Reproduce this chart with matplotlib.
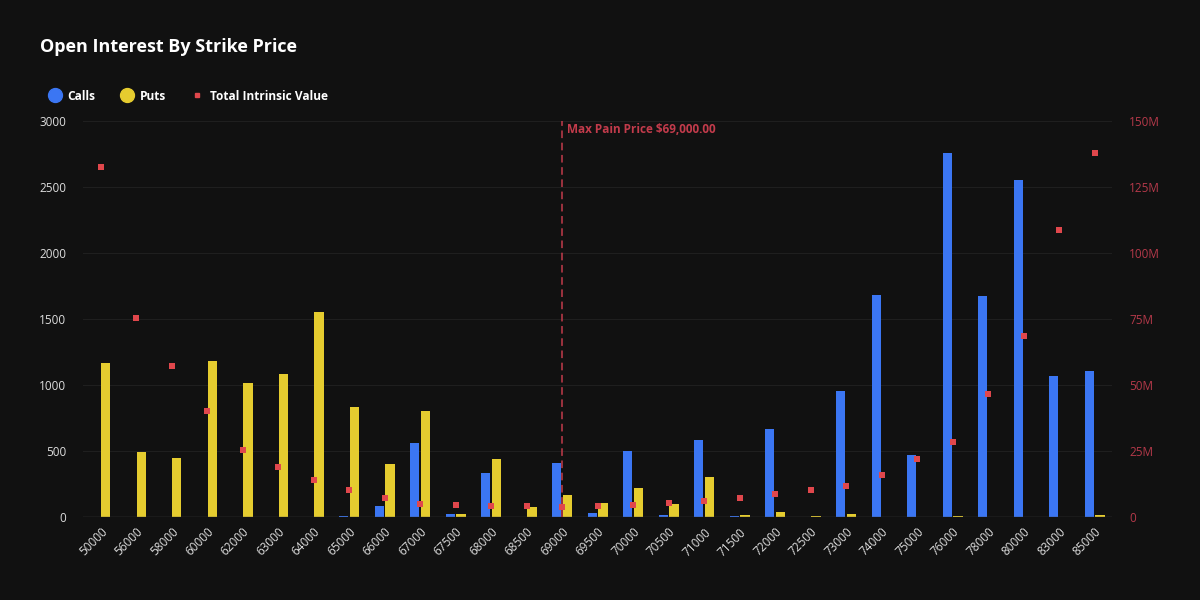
import matplotlib.pyplot as plt
import numpy as np
from matplotlib.lines import Line2D
from matplotlib.ticker import FuncFormatter

plt.rcParams['font.family'] = ['Open Sans', 'Noto Sans', 'DejaVu Sans']

strikes = ['50000', '56000', '58000', '60000', '62000', '63000', '64000', '65000',
           '66000', '67000', '67500', '68000', '68500', '69000', '69500', '70000',
           '70500', '71000', '71500', '72000', '72500', '73000', '74000', '75000',
           '76000', '78000', '80000', '83000', '85000']
calls = [0, 0, 0, 0, 0, 0, 0, 10, 83, 561, 22, 333, 0, 409, 30, 500,
         15, 583, 8, 667, 0, 955, 1682, 470, 2758, 1674, 2553, 1068, 1106]
puts = [1165, 492, 447, 1182, 1015, 1083, 1553, 836, 401, 803, 22, 439, 76, 167, 106, 220,
        98, 303, 15, 36, 8, 22, 0, 0, 6, 0, 0, 0, 20]
intrinsic_m = [132.6, 75.5, 57.2, 40.2, 25.4, 18.9, 14.0, 10.2, 7.2, 4.9, 4.5, 4.2, 4.2, 3.7,
               4.2, 4.5, 5.3, 6.1, 7.2, 8.7, 10.2, 11.7, 15.9, 22.0, 28.4, 46.6, 68.6, 108.7, 137.9]
max_pain = '69000'

BG = '#111111'
BLUE = '#3b76f3'
YELLOW = '#e5cc2f'
RED = '#e0474c'
RED_TXT = '#c23b4b'

fig = plt.figure(figsize=(12, 6), dpi=100, facecolor=BG)
ax = fig.add_axes([0.069, 0.138, 0.858, 0.66], facecolor=BG)
ax2 = ax.twinx()

x = np.arange(len(strikes))
w = 0.26
ax.bar(x - 0.15, calls, width=w, color=BLUE, zorder=3)
ax.bar(x + 0.15, puts, width=w, color=YELLOW, zorder=3)
ax2.scatter(x, np.array(intrinsic_m) * 1e6, marker='s', s=16, color=RED, zorder=4, linewidths=0)

mp = strikes.index(max_pain)
ax.axvline(mp, color=RED_TXT, linestyle=(0, (5, 3)), linewidth=1.1, zorder=5)
ax.text(mp + 0.15, 2990, 'Max Pain Price $69,000.00', color=RED_TXT, fontsize=8.5,
        fontweight='bold', va='top', ha='left')

ax.set_xlim(-0.5, len(strikes) - 0.5)
ax.set_ylim(0, 3000)
ax2.set_ylim(0, 150e6)
ax.set_yticks(np.arange(0, 3001, 500))
ax2.set_yticks(np.arange(0, 150e6 + 1, 25e6))
ax2.yaxis.set_major_formatter(FuncFormatter(lambda v, p: '0' if v == 0 else f'{v/1e6:.0f}M'))

ax.set_xticks(x)
ax.set_xticklabels(strikes, rotation=45, ha='right', rotation_mode='anchor')
ax.tick_params(axis='x', colors='#dddddd', labelsize=8.5, length=0, pad=6)
ax.tick_params(axis='y', colors='#dddddd', labelsize=8.5, length=0, pad=12)
ax2.tick_params(axis='y', colors='#b5394a', labelsize=8.5, length=0, pad=12)

ax.grid(axis='y', color='#1f1f1f', linewidth=0.8, zorder=0)
ax.axhline(0, color='#444444', linewidth=1, zorder=4)
for a in (ax, ax2):
    for s in a.spines.values():
        s.set_visible(False)

fig.text(0.033, 0.922, 'Open Interest By Strike Price', color='white', fontsize=13,
         fontweight='bold', va='center')

handles = [
    Line2D([], [], marker='o', linestyle='', color=BLUE, markersize=10),
    Line2D([], [], marker='o', linestyle='', color=YELLOW, markersize=10),
    Line2D([], [], marker='s', linestyle='', color=RED, markersize=3.5),
]
leg = fig.legend(handles, ['Calls', 'Puts', 'Total Intrinsic Value'], loc='center left',
                 bbox_to_anchor=(0.031, 0.84), ncol=3, frameon=False, handletextpad=0.55,
                 columnspacing=2.05, handlelength=1.1,
                 prop={'weight': 'bold', 'size': 8.6})
for t in leg.get_texts():
    t.set_color('white')

fig.savefig('out.png', dpi=100, facecolor=BG)
